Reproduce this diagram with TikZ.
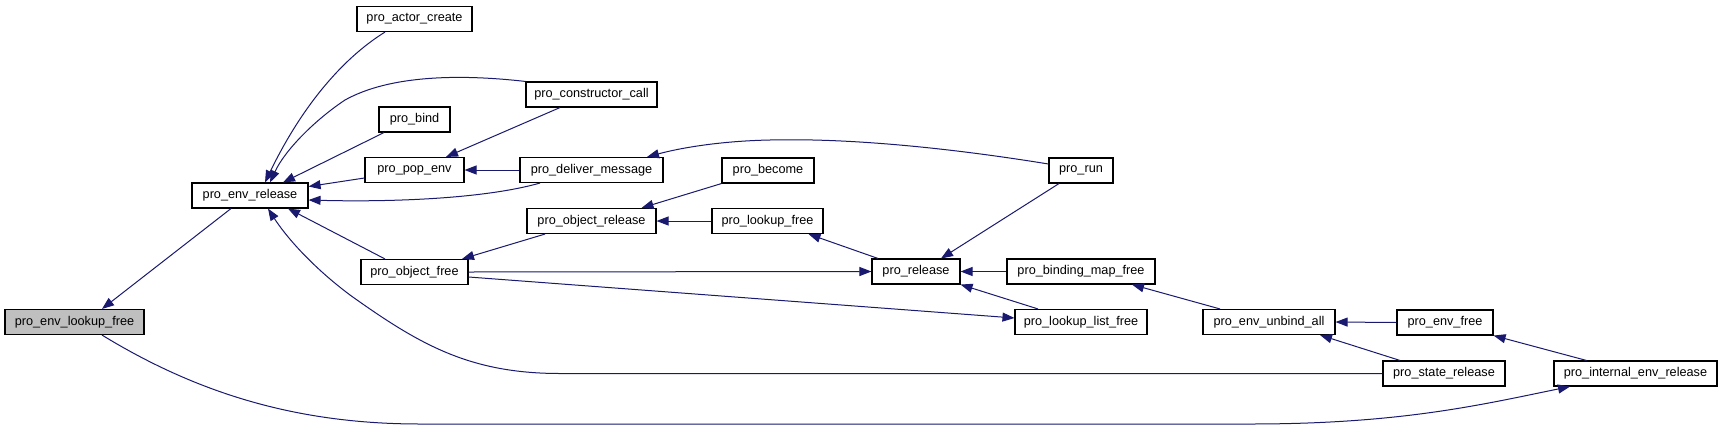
\documentclass[tikz,border=0pt]{standalone}
\usepackage{fontspec}
\setmainfont{Liberation Sans}
\usetikzlibrary{arrows.meta}
\definecolor{edgeblue}{HTML}{191970}
\definecolor{focusgray}{HTML}{BFBFBF}
\begin{document}
\begin{tikzpicture}[x=1pt,y=-1pt,
  fn/.style={draw=black,line width=1.1pt,fill=white,rectangle,inner sep=0pt,
    minimum height=25pt,font=\fontsize{12.7}{14}\selectfont,text=black},
  edge/.style={draw=edgeblue,line width=1pt,-{Triangle[length=12pt,width=9pt]}}]
\useasboundingbox[fill=white] (0,0) rectangle (1723,429);
% nodes
\node[fn,fill=focusgray,minimum width=139pt] (envlookup) at (74.5,322) {pro\_env\_lookup\_free};
\node[fn,minimum width=116pt] (envrelease) at (250,195.5) {pro\_env\_release};
\node[fn,minimum width=115pt] (actorcreate) at (414.5,19) {pro\_actor\_create};
\node[fn,minimum width=131pt] (constructor) at (591.5,94.5) {pro\_constructor\_call};
\node[fn,minimum width=71pt] (bind) at (414.5,119.5) {pro\_bind};
\node[fn,minimum width=99pt] (popenv) at (414.5,170) {pro\_pop\_env};
\node[fn,minimum width=143pt] (deliver) at (591.5,170) {pro\_deliver\_message};
\node[fn,minimum width=107pt] (objectfree) at (414.5,272) {pro\_object\_free};
\node[fn,minimum width=129pt] (objectrelease) at (591.5,221) {pro\_object\_release};
\node[fn,minimum width=92pt] (become) at (768,170.5) {pro\_become};
\node[fn,minimum width=111pt] (lookupfree) at (767.5,221) {pro\_lookup\_free};
\node[fn,minimum width=64pt] (run) at (1081,170.5) {pro\_run};
\node[fn,minimum width=88pt] (release) at (916,271.5) {pro\_release};
\node[fn,minimum width=148pt] (bindingmap) at (1081,271.5) {pro\_binding\_map\_free};
\node[fn,minimum width=132pt] (lookuplist) at (1081,322) {pro\_lookup\_list\_free};
\node[fn,minimum width=132pt] (unbindall) at (1269,322) {pro\_env\_unbind\_all};
\node[fn,minimum width=96pt] (envfree) at (1445,322.5) {pro\_env\_free};
\node[fn,minimum width=122pt] (staterelease) at (1444,373.5) {pro\_state\_release};
\node[fn,minimum width=163pt] (internal) at (1635.5,373.5) {pro\_internal\_env\_release};
% edges
\draw[edge] ([xshift=-19pt]envrelease.south) -- ([xshift=27.5pt]envlookup.north);
\draw[edge] ([xshift=27.5pt]envlookup.south) .. controls (200,395) and (300,424) .. (420,424)
  -- (1250,424) .. controls (1400,424) and (1480,405) .. ([xshift=-65.5pt]internal.south);
\draw[edge] ([xshift=-29.5pt]actorcreate.south) .. controls (340,60) and (300,110) .. ([xshift=15pt]envrelease.north);
\draw[edge] (constructor.north west) .. controls (460,74) and (390,75) .. (345,100)
  .. controls (315,120) and (285,150) .. ([xshift=20pt]envrelease.north);
\draw[edge] ([xshift=-30.5pt]bind.south) -- ([xshift=33pt]envrelease.north);
\draw[edge] ([yshift=-8pt]popenv.west) -- ([yshift=9pt]envrelease.east);
\draw[edge] ([xshift=-51.5pt]deliver.south) .. controls (480,200) and (380,202) .. ([yshift=-4.5pt]envrelease.east);
\draw[edge] ([xshift=-29.5pt]objectfree.north) -- ([xshift=38pt]envrelease.south);
\draw[edge] (staterelease.west) -- (560,373.5) .. controls (470,373.5) and (420,345) .. (350,295)
  .. controls (310,265) and (285,235) .. ([xshift=18pt]envrelease.south);
\draw[edge] ([xshift=-31.5pt]constructor.south) -- ([xshift=31.5pt]popenv.north);
\draw[edge] (deliver.west) -- (popenv.east);
\draw[edge] ([yshift=6.5pt]run.west) .. controls (950,148) and (850,138) .. (770,140)
  .. controls (720,141) and (680,148) .. ([xshift=55.5pt]deliver.north);
\draw[edge] ([xshift=-46.5pt]objectrelease.south) -- ([xshift=47.5pt]objectfree.north);
\draw[edge] (become.south west) -- ([xshift=50pt]objectrelease.north);
\draw[edge] (lookupfree.west) -- (objectrelease.east);
\draw[edge] (objectfree.east) -- (release.west);
\draw[edge] ([yshift=-5pt]objectfree.east) -- ([yshift=4pt]lookuplist.west);
\draw[edge] ([xshift=-38pt]release.north) -- ([xshift=41pt]lookupfree.south);
\draw[edge] ([xshift=-22pt]run.south) -- ([xshift=25pt]release.north);
\draw[edge] (bindingmap.west) -- (release.east);
\draw[edge] ([xshift=-43pt]lookuplist.north) -- (release.south east);
\draw[edge] ([xshift=-49pt]unbindall.north) -- ([xshift=51pt]bindingmap.south);
\draw[edge] (envfree.west) -- (unbindall.east);
\draw[edge] ([xshift=-44pt]staterelease.north) -- ([xshift=51pt]unbindall.south);
\draw[edge] ([xshift=-49pt]internal.north) -- (envfree.south east);
\end{tikzpicture}
\end{document}
